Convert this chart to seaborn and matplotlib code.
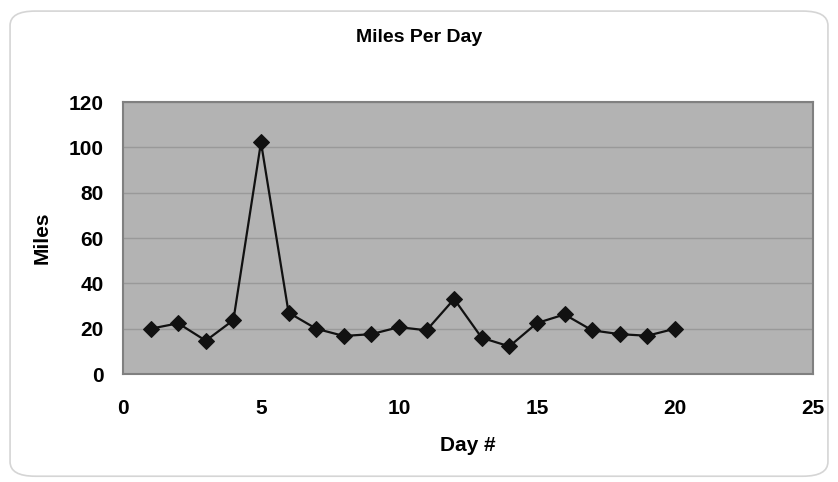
import numpy as np
import pandas as pd
import seaborn as sns
import matplotlib.pyplot as plt
from matplotlib.patches import FancyBboxPatch

sns.set_theme(style='white')
plt.rcParams['font.family'] = ['Liberation Sans', 'DejaVu Sans']
plt.rcParams['text.color'] = 'black'
plt.rcParams['xtick.color'] = 'black'
plt.rcParams['ytick.color'] = 'black'
plt.rcParams['axes.labelcolor'] = 'black'

days = list(range(1, 21))
miles = [20.0, 22.4, 14.7, 23.8, 102.3, 27.1, 20.0, 16.8, 17.6, 20.7,
         19.3, 33.1, 16.0, 12.2, 22.5, 26.3, 19.3, 17.6, 16.9, 20.0]
x_ticks = [0, 5, 10, 15, 20, 25]
y_ticks = [0, 20, 40, 60, 80, 100, 120]

df = pd.DataFrame({'day': days, 'miles': miles})

fig = plt.figure(figsize=(8.38, 4.82), dpi=100)
fig.patch.set_facecolor('white')

# rounded outer frame like the spreadsheet chart area
frame = FancyBboxPatch((0.012, 0.012), 0.976, 0.965,
                       boxstyle='round,pad=0,rounding_size=0.03',
                       transform=fig.transFigure, facecolor='none',
                       edgecolor='#d5d5d5', linewidth=1.2, zorder=-1)
fig.patches.append(frame)

ax = fig.add_axes([0.1468, 0.224, 0.8232, 0.564])
ax.set_facecolor('#b3b3b3')

sns.lineplot(data=df, x='day', y='miles', marker='D', markersize=8,
             color='#111111', markeredgecolor='#111111', linewidth=1.6, ax=ax)

ax.set_xlim(0, 25)
ax.set_ylim(0, 120)
ax.set_xticks(x_ticks)
ax.set_yticks(y_ticks)
ax.yaxis.grid(True, color='#999999', linewidth=1)
ax.xaxis.grid(False)
ax.set_axisbelow(True)

for s in ax.spines.values():
    s.set_color('#808080')
    s.set_linewidth(1.5)

ax.tick_params(axis='both', direction='out', length=6, width=1, color='#d0d0d0',
               labelcolor='black', labelsize=15)
ax.tick_params(axis='x', pad=12)
ax.tick_params(axis='y', pad=8)
for lbl in ax.get_xticklabels() + ax.get_yticklabels():
    lbl.set_fontweight('bold')

ax.set_xlabel('Day #', fontsize=15, fontweight='bold', labelpad=13)
ax.set_ylabel('Miles', fontsize=15, fontweight='bold', labelpad=12)

fig.text(0.5, 0.923, 'Miles Per Day', ha='center', va='center',
         fontsize=14, fontweight='bold')

fig.savefig('out.png', dpi=100)
